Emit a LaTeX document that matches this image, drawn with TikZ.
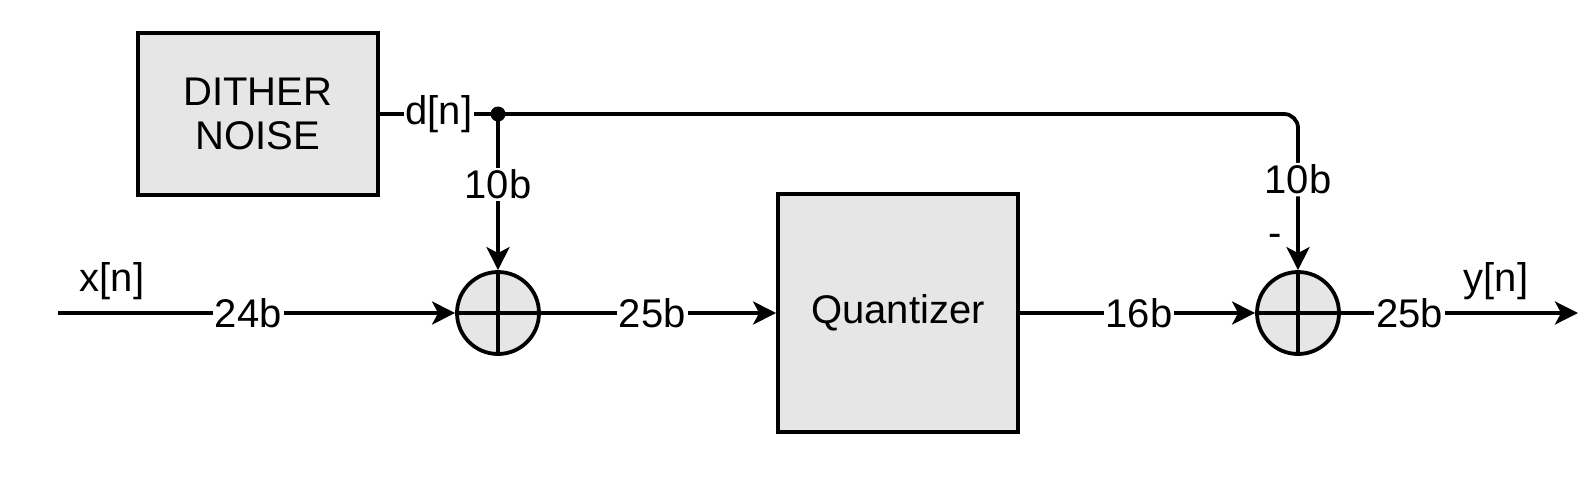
\documentclass[tikz,border=0pt]{standalone}
\usepackage{fontspec}
\setmainfont{Liberation Sans}
\usetikzlibrary{arrows.meta}
\definecolor{boxfill}{HTML}{E6E6E6}
\begin{document}
\begin{tikzpicture}[x=1pt,y=-1pt, line width=3.8pt,
  every node/.style={font=\fontsize{40}{44}\selectfont, inner sep=2pt},
  block/.style={draw, fill=boxfill, inner sep=0pt, align=center},
  sumnode/.style={draw, fill=boxfill, circle, minimum size=82pt, inner sep=0pt},
  lbl/.style={fill=white, inner sep=2pt},
  arr/.style={-{Stealth[length=23pt,width=23pt,inset=6pt]}}]
\useasboundingbox (0,0) rectangle (1594,482);
\node[block, minimum width=240pt, minimum height=162pt] (dither) at (258,114) {DITHER\\NOISE};
\node[block, minimum width=240pt, minimum height=238pt] (q) at (898,313) {Quantizer};
\node[sumnode] (s1) at (498,313) {};
\node[sumnode] (s2) at (1298,313) {};
\draw (s1.north) -- (s1.south) (s1.west) -- (s1.east);
\draw (s2.north) -- (s2.south) (s2.west) -- (s2.east);
\coordinate (xin) at (58,313);
\coordinate (yout) at (1578,313);
\coordinate (j) at (s1 |- dither.east);
\coordinate (c) at (s2 |- dither.east);
\draw (dither.east) -- node[lbl]{d[n]} (j);
\draw[arr, rounded corners=14pt] (j) -- (c) -- node[lbl, pos=0.42]{10b} (s2.north);
\draw[arr] (j) -- node[lbl, pos=0.45]{10b} (s1.north);
\fill (j) circle (7.5pt);
\draw[arr] (xin) -- node[lbl, pos=0.479]{24b} (s1.west);
\draw[arr] (s1.east) -- node[lbl, pos=0.473]{25b} (q.west);
\draw[arr] (q.east) -- node[lbl, pos=0.506]{16b} (s2.west);
\draw[arr] (s2.east) -- node[lbl, pos=0.289]{25b} (yout);
\node (xl) at (112,281) {x[n]};
\node (yl) at (1496,281) {y[n]};
\node (minus) at (1275,240) {-};
\end{tikzpicture}
\end{document}
